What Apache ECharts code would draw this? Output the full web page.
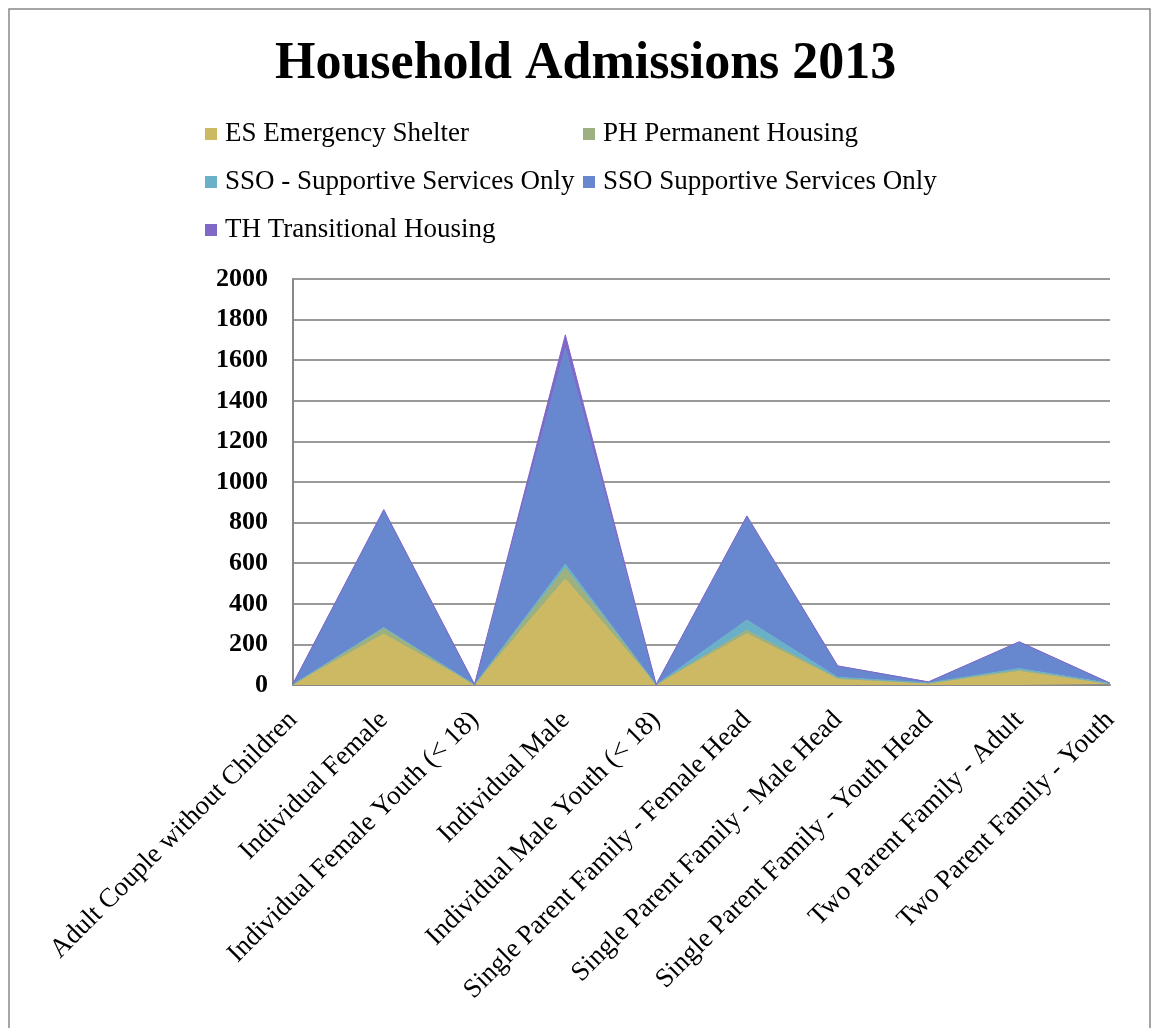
<!DOCTYPE html>
<html>
<head>
<meta charset="utf-8">
<script src="https://cdn.jsdelivr.net/npm/echarts@6/dist/echarts.min.js"></script>
<style>html,body{margin:0;padding:0;background:#fff}#c{width:1153px;height:1028px}</style>
</head>
<body>
<div id="c"></div>
<script>
const categories = [
  "Adult Couple without Children",
  "Individual Female",
  "Individual Female Youth (< 18)",
  "Individual Male",
  "Individual Male Youth (< 18)",
  "Single Parent Family - Female Head",
  "Single Parent Family - Male Head",
  "Single Parent Family - Youth Head",
  "Two Parent Family - Adult",
  "Two Parent Family - Youth"
];
const esEmergency = [2, 250, 1, 522, 1, 252, 28, 8, 66, 5];
const phPermanent = [0, 28, 0, 54, 0, 18, 4, 1, 7, 1];
const ssoDash = [0, 5, 0, 20, 0, 50, 6, 1, 8, 1];
const ssoSupportive = [4, 576, 1, 1064, 1, 510, 55, 5, 130, 2];
const thTransitional = [0, 5, 0, 65, 0, 3, 1, 0, 2, 0];
const seriesNames = [
  "ES Emergency Shelter",
  "PH Permanent Housing",
  "SSO - Supportive Services Only",
  "SSO Supportive Services Only",
  "TH Transitional Housing"
];
const seriesData = [esEmergency, phPermanent, ssoDash, ssoSupportive, thTransitional];
const colors = ["#CDB964", "#9DB07F", "#6AB0C8", "#6787CF", "#8068C8"];
const yTicks = { min: 0, max: 2000, interval: 200 };

const font = "'Liberation Serif', 'DejaVu Serif', serif";
const chart = echarts.init(document.getElementById('c'));
const legendCommon = {
  orient: 'vertical',
  itemWidth: 12, itemHeight: 12, itemGap: 18,
  icon: 'rect',
  textStyle: { fontFamily: font, fontSize: 27, color: '#000', lineHeight: 30, padding: [0,0,0,3] },
  selectedMode: false
};
chart.setOption({
  animation: false,
  color: colors,
  title: {
    text: 'Household Admissions 2013',
    left: 270, top: 34,
    textStyle: { fontFamily: font, fontSize: 52, fontWeight: 'bold', color: '#000' }
  },
  graphic: [{
    type: 'rect', shape: { x: 9, y: 9, width: 1141, height: 1040 },
    style: { fill: 'none', stroke: '#888', lineWidth: 1.5 }, silent: true
  }],
  legend: [
    Object.assign({ left: 200, top: 114, data: [seriesNames[0], seriesNames[2], seriesNames[4]] }, legendCommon),
    Object.assign({ left: 578, top: 114, data: [seriesNames[1], seriesNames[3]] }, legendCommon)
  ],
  grid: { left: 293, right: 43, top: 279, bottom: 343, containLabel: false },
  xAxis: {
    type: 'category', data: categories, boundaryGap: false,
    axisLine: { lineStyle: { color: '#888', width: 2 } },
    axisTick: { show: false },
    axisLabel: { rotate: 45, interval: 0, margin: 31, fontFamily: font, fontSize: 27, color: '#000' }
  },
  yAxis: {
    type: 'value', min: yTicks.min, max: yTicks.max, interval: yTicks.interval,
    axisLine: { show: true, lineStyle: { color: '#888', width: 2 } },
    axisTick: { show: false },
    splitLine: { lineStyle: { color: '#999', width: 2 } },
    axisLabel: { margin: 25, fontFamily: font, fontSize: 26, fontWeight: 'bold', color: '#000',
      formatter: v => String(v) }
  },
  series: seriesNames.map((n, i) => ({
    name: n, type: 'line', stack: 'total', data: seriesData[i],
    showSymbol: false, symbol: 'none',
    lineStyle: { width: 1, color: colors[i] },
    itemStyle: { color: colors[i] },
    areaStyle: { color: colors[i], opacity: 1 }
  }))
});
</script>
</body>
</html>
